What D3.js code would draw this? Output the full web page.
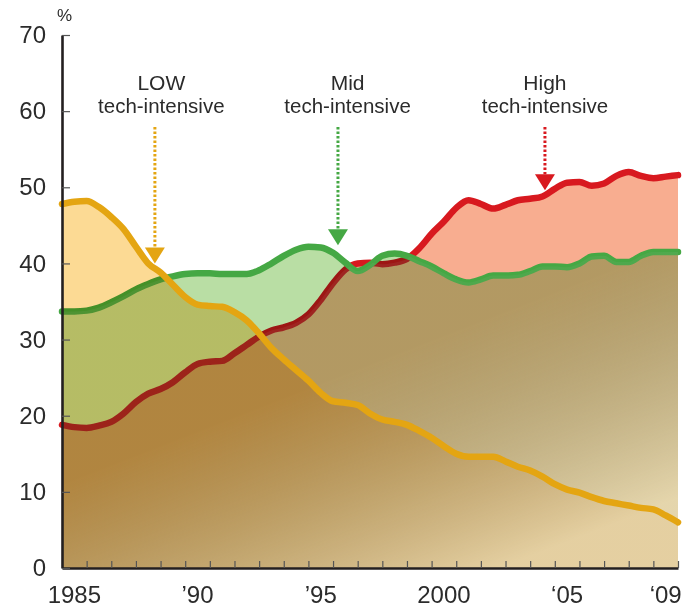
<!DOCTYPE html>
<html>
<head>
<meta charset="utf-8">
<script src="https://cdn.jsdelivr.net/npm/d3@7"></script>
<style>
body { margin: 0; background: #fff; }
svg text { font-family: "Liberation Sans", Arial, sans-serif; fill: #2b2b2b; }
</style>
</head>
<body>
<script>
// half-year points, 1985 to end of 2009
var years = [1985, 1985.5, 1986, 1986.5, 1987, 1987.5, 1988, 1988.5, 1989, 1989.5,
    1990, 1990.5, 1991, 1991.5, 1992, 1992.5, 1993, 1993.5, 1994, 1994.5,
    1995, 1995.5, 1996, 1996.5, 1997, 1997.5, 1998, 1998.5, 1999, 1999.5,
    2000, 2000.5, 2001, 2001.5, 2002, 2002.5, 2003, 2003.5, 2004, 2004.5,
    2005, 2005.5, 2006, 2006.5, 2007, 2007.5, 2008, 2008.5, 2009, 2009.5, 2010];

var lowTech = [47.8, 48.1, 48.2, 47.4, 46.1, 44.5, 42.2, 40.0, 38.8, 37.2,
    35.6, 34.6, 34.4, 34.3, 33.6, 32.5, 30.8, 28.9, 27.4, 26.0,
    24.6, 23.0, 21.9, 21.7, 21.4, 20.3, 19.5, 19.2, 18.8, 18.0,
    17.1, 16.0, 15.0, 14.6, 14.6, 14.6, 14.0, 13.3, 12.8, 12.0,
    11.0, 10.3, 9.9, 9.3, 8.8, 8.5, 8.2, 7.9, 7.7, 6.9, 6.0];

var midTech = [33.7, 33.7, 33.8, 34.2, 34.9, 35.7, 36.6, 37.3, 37.9, 38.3,
    38.6, 38.7, 38.7, 38.6, 38.6, 38.6, 39.1, 40.0, 41.0, 41.8,
    42.2, 42.1, 41.4, 40.1, 39.0, 39.8, 41.0, 41.3, 41.0, 40.3,
    39.6, 38.7, 37.9, 37.5, 37.9, 38.4, 38.4, 38.5, 39.0, 39.6,
    39.6, 39.5, 40.0, 40.9, 41.0, 40.2, 40.2, 41.0, 41.5, 41.5, 41.5];

var highTech = [18.8, 18.5, 18.4, 18.7, 19.2, 20.3, 21.8, 22.9, 23.5, 24.4,
    25.7, 26.8, 27.1, 27.2, 28.2, 29.3, 30.4, 31.2, 31.6, 32.2,
    33.3, 35.2, 37.4, 39.2, 40.0, 40.1, 39.9, 40.1, 40.6, 42.0,
    43.9, 45.5, 47.3, 48.3, 47.8, 47.2, 47.7, 48.3, 48.5, 48.8,
    49.8, 50.6, 50.7, 50.2, 50.5, 51.5, 52.0, 51.5, 51.2, 51.4, 51.6];

var yTicks = [0, 10, 20, 30, 40, 50, 60, 70];
var xTickYears = [1986, 1987, 1988, 1989, 1990, 1991, 1992, 1993, 1994, 1995, 1996, 1997,
    1998, 1999, 2000, 2001, 2002, 2003, 2004, 2005, 2006, 2007, 2008, 2009, 2010];
var xLabelYears = [1985, 1990, 1995, 2000, 2005, 2009];
var xLabels = ["1985", "\u201990", "\u201995", "2000", "\u201805", "\u201809"];

// annotations: name, label x (year), arrow x (year), arrow tip value
var annNames = ["LOW", "Mid", "High"];
var annLabelYear = [1989.03, 1996.59, 2004.6];
var annArrowYear = [1988.77, 1996.2, 2004.6];
var annTipValue = [40.0, 42.4, 49.6];
var annColors = ["#e4a512", "#45a844", "#d8191f"];

// canvas
const canvWidth = 691, canvHeight = 609;
const margin = {top: 35, right: 13, bottom: 41, left: 62};
const width = canvWidth - margin.left - margin.right;
const height = canvHeight - margin.top - margin.bottom;

const svg = d3.select("body").append("svg")
    .attr("width", canvWidth)
    .attr("height", canvHeight);

const defs = svg.append("defs");

var xScale = d3.scaleLinear().domain([1985, 2010]).range([0, width]);
var yScale = d3.scaleLinear().domain([0, 70]).range([height, 0]);

function series(values) {
    return years.map(function (yr, i) { return {year: yr, v: values[i]}; });
}

var area = d3.area()
    .x(d => xScale(d.year))
    .y0(yScale(0))
    .y1(d => yScale(d.v))
    .curve(d3.curveMonotoneX);

var line = d3.line()
    .x(d => xScale(d.year))
    .y(d => yScale(d.v))
    .curve(d3.curveMonotoneX);

// clip shapes for each area, used to build the "below the middle line" mask
var allSeries = {low: lowTech, mid: midTech, high: highTech};
Object.keys(allSeries).forEach(function (k) {
    defs.append("clipPath").attr("id", "clip-" + k)
        .append("path")
        .attr("transform", "translate(" + margin.left + "," + margin.top + ")")
        .datum(series(allSeries[k])).attr("d", area);
});
var mask = defs.append("mask").attr("id", "belowMid")
    .attr("maskUnits", "userSpaceOnUse")
    .attr("x", 0).attr("y", 0).attr("width", canvWidth).attr("height", canvHeight);
[["low", "mid"], ["low", "high"], ["mid", "high"]].forEach(function (p) {
    mask.append("g").attr("clip-path", "url(#clip-" + p[1] + ")")
        .append("path")
        .attr("transform", "translate(" + margin.left + "," + margin.top + ")")
        .datum(series(allSeries[p[0]]))
        .attr("d", area)
        .attr("fill", "#fff");
});

// lightening towards the bottom right
var grad = defs.append("linearGradient")
    .attr("id", "fade")
    .attr("gradientUnits", "userSpaceOnUse")
    .attr("x1", 650).attr("y1", 255)
    .attr("x2", 736).attr("y2", 476);
grad.append("stop").attr("offset", 0).attr("stop-color", "#b0b6a0").attr("stop-opacity", 0.1);
grad.append("stop").attr("offset", 1).attr("stop-color", "#f8eecb").attr("stop-opacity", 0.72);

const g = svg.append("g")
    .attr("transform", "translate(" + margin.left + "," + margin.top + ")");

// white backing so multiply has something to blend with
g.append("rect").attr("width", width).attr("height", height).attr("fill", "#fff");

function drawArea(values, fill) {
    g.append("path")
        .datum(series(values))
        .attr("d", area)
        .attr("fill", fill)
        .style("mix-blend-mode", "multiply");
}
function drawLine(parent, values, stroke) {
    parent.append("path")
        .datum(series(values))
        .attr("d", line)
        .attr("fill", "none")
        .attr("stroke", stroke)
        .attr("stroke-width", 6.5)
        .attr("stroke-linecap", "round")
        .attr("stroke-linejoin", "round");
}

drawArea(highTech, "#f8ad90");
drawLine(g, highTech, "#d8191f");
drawArea(midTech, "#b9dea4");
drawLine(g, midTech, "#45a844");
drawArea(lowTech, "#fcda94");

svg.append("rect")
    .attr("x", margin.left)
    .attr("y", margin.top)
    .attr("width", width)
    .attr("height", height)
    .attr("fill", "url(#fade)")
    .attr("mask", "url(#belowMid)");

const fg = svg.append("g")
    .attr("transform", "translate(" + margin.left + "," + margin.top + ")");

drawLine(fg, lowTech, "#e4a512");

// x axis
var xAxis = d3.axisBottom(xScale).tickValues(xTickYears).tickSize(-7).tickSizeOuter(0).tickFormat("");
var xg = fg.append("g").attr("transform", "translate(0," + height + ")").call(xAxis);
xg.select(".domain").attr("stroke", "#231f20").attr("stroke-width", 2.6);
xg.selectAll(".tick line").attr("stroke", "#555").attr("stroke-width", 1.2);

fg.selectAll("text.xlab")
    .data(xLabelYears)
    .enter()
    .append("text")
    .attr("class", "xlab")
    .attr("x", d => xScale(d + 0.5))
    .attr("y", height + 35)
    .attr("text-anchor", "middle")
    .attr("font-size", "24px")
    .text((d, i) => xLabels[i]);

// y axis
var yAxis = d3.axisLeft(yScale).tickValues(yTicks).tickSize(-8).tickSizeOuter(0).tickPadding(16);
var yg = fg.append("g").call(yAxis);
yg.select(".domain").attr("stroke", "#231f20").attr("stroke-width", 2.6);
yg.selectAll(".tick line").attr("stroke", "#555").attr("stroke-width", 1.2);
yg.selectAll(".tick text").attr("font-size", "24px").attr("fill", "#2b2b2b")
    .attr("font-family", "Liberation Sans, Arial, sans-serif");

svg.append("text")
    .attr("x", 64.5)
    .attr("y", 21)
    .attr("text-anchor", "middle")
    .attr("font-size", "17px")
    .text("%");

// annotations
annNames.forEach(function (name, i) {
    var lx = xScale(annLabelYear[i]);
    var ax = xScale(annArrowYear[i]);
    var tipY = yScale(annTipValue[i]);
    fg.append("text")
        .attr("x", lx)
        .attr("y", 90 - margin.top)
        .attr("text-anchor", "middle")
        .attr("font-size", "21px")
        .text(name);
    fg.append("text")
        .attr("x", lx)
        .attr("y", 113 - margin.top)
        .attr("text-anchor", "middle")
        .attr("font-size", "20.5px")
        .text("tech-intensive");
    fg.append("line")
        .attr("x1", ax).attr("x2", ax)
        .attr("y1", 127 - margin.top)
        .attr("y2", tipY - 16)
        .attr("stroke", annColors[i])
        .attr("stroke-width", 3)
        .attr("stroke-dasharray", "2.5,2");
    fg.append("path")
        .attr("d", "M" + (ax - 10) + "," + (tipY - 16) + "L" + (ax + 10) + "," + (tipY - 16) + "L" + ax + "," + tipY + "Z")
        .attr("fill", annColors[i]);
});
</script>
</body>
</html>
